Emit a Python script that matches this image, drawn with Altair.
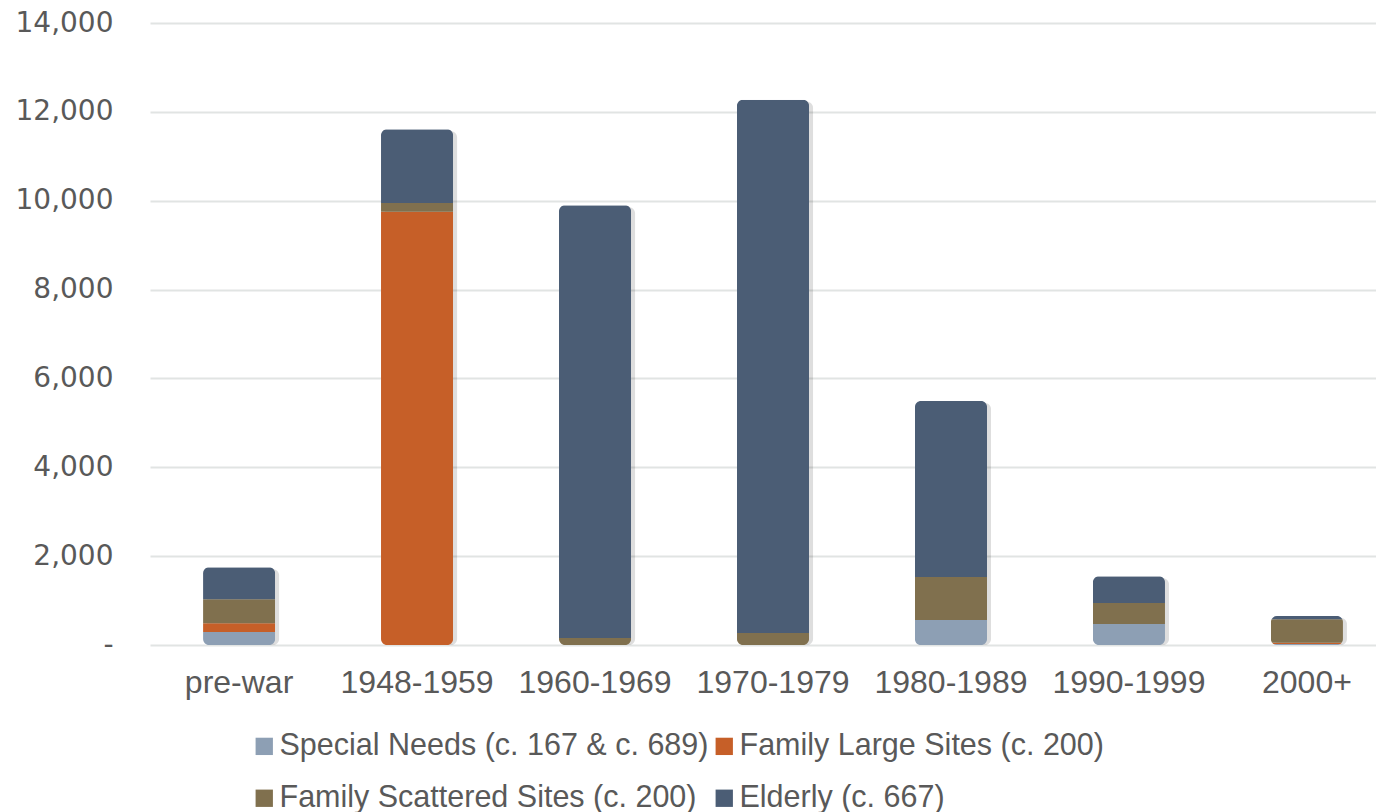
import altair as alt
import pandas as pd

periods = ["pre-war", "1948-1959", "1960-1969", "1970-1979", "1980-1989", "1990-1999", "2000+"]
series = ["Special Needs (c. 167 & c. 689)", "Family Large Sites (c. 200)",
          "Family Scattered Sites (c. 200)", "Elderly (c. 667)"]
special_needs = [290, 0, 0, 0, 560, 470, 20]
family_large = [200, 9750, 0, 0, 0, 0, 30]
family_scattered = [540, 200, 160, 270, 970, 475, 530]
elderly = [720, 1660, 9740, 12000, 3960, 605, 70]
colors = ["#8d9fb4", "#c65f28", "#80704e", "#4b5d75"]

rows = []
for si, (name, vals) in enumerate(zip(series, [special_needs, family_large, family_scattered, elderly])):
    for p, v in zip(periods, vals):
        rows.append({"period": p, "series": name, "value": v, "order": si})
df = pd.DataFrame(rows)

xenc = alt.X("period:N", sort=periods, title=None,
             scale=alt.Scale(range=[0, 1246], paddingInner=0.595, paddingOuter=0.298),
             axis=alt.Axis(labelAngle=0, labelFont="Liberation Sans", labelFontSize=32,
                           labelColor="#595959", labelPadding=22, ticks=False, domain=False,
                           grid=False))
yscale = alt.Scale(domain=[0, 14000], nice=False)
yaxis = alt.Axis(values=[0, 2000, 4000, 6000, 8000, 10000, 12000, 14000],
                 labelExpr="datum.value == 0 ? '-' : format(datum.value, ',')",
                 labelFont="DejaVu Sans", labelFontSize=28, labelColor="#595959",
                 labelPadding=37, ticks=False, domain=False,
                 gridColor="#e1e4e3", gridWidth=2)

base = alt.Chart(df)

shadow = base.mark_bar(cornerRadius=6, color="#000000", opacity=0.13, xOffset=4, yOffset=2).encode(
    x=xenc,
    y=alt.Y("sum(value):Q", title=None, scale=yscale, axis=yaxis),
)

bars = base.mark_bar(cornerRadius=6).encode(
    x=xenc,
    y=alt.Y("value:Q", title=None, stack="zero", scale=yscale, axis=yaxis),
    color=alt.Color("series:N", sort=series,
                    scale=alt.Scale(domain=series, range=colors),
                    legend=alt.Legend(title=None, orient="none", legendX=99, legendY=708,
                                      direction="horizontal", columns=2,
                                      labelFont="Liberation Sans", labelFontSize=30.5,
                                      labelColor="#595959", symbolType="square",
                                      symbolSize=300, symbolStrokeWidth=0,
                                      labelOffset=0, columnPadding=0, rowPadding=21,
                                      labelLimit=600)),
    order=alt.Order("order:Q", sort="ascending"),
)

chart = alt.layer(shadow, bars).properties(
    width=1226, height=622,
    autosize=alt.AutoSizeParams(type="none"),
    padding={"left": 150, "top": 23, "right": 0, "bottom": 167},
).configure(background="white").configure_view(stroke=None, strokeWidth=0)

chart.save("out.html", embed_options={"renderer": "svg", "actions": False})
